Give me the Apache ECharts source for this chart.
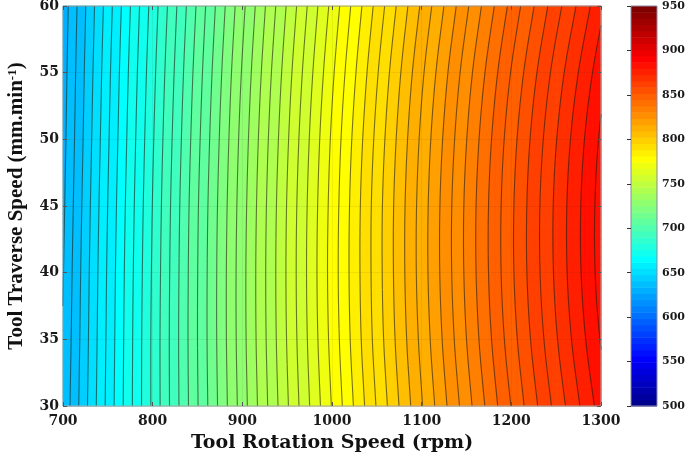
<!DOCTYPE html>
<html><head><meta charset="utf-8">
<script src="https://cdn.jsdelivr.net/npm/echarts@6/dist/echarts.min.js"></script>
<style>html,body{margin:0;padding:0;background:#fff}#c{width:685px;height:454px}</style>
</head><body><div id="c"></div>
<script>
// ---- data (temperature at grid nodes) ----
const rpm = [700, 750, 800, 850, 900, 950, 1000, 1050, 1100, 1150, 1200, 1250, 1300];
const speed = [30, 35, 40, 45, 50, 55, 60];
const temp30 = [636.0, 661.5, 686.0, 709.7, 732.5, 754.4, 775.3, 795.4, 814.6, 832.8, 850.2, 866.7, 882.3];
const temp35 = [635.3, 661.1, 686.0, 710.0, 733.1, 755.3, 776.6, 797.0, 816.4, 835.0, 852.7, 869.5, 885.4];
const temp40 = [634.7, 660.7, 685.7, 709.9, 733.2, 755.6, 777.1, 797.6, 817.3, 836.1, 854.0, 871.0, 887.1];
const temp45 = [634.0, 660.1, 685.2, 709.5, 732.8, 755.3, 776.8, 797.5, 817.2, 836.1, 854.0, 871.1, 887.2];
const temp50 = [633.3, 659.3, 684.4, 708.6, 731.9, 754.3, 775.8, 796.4, 816.1, 834.9, 852.8, 869.8, 885.9];
const temp55 = [632.7, 658.5, 683.4, 707.4, 730.5, 752.7, 774.0, 794.4, 814.0, 832.6, 850.3, 867.1, 883.0];
const temp60 = [632.0, 657.5, 682.1, 705.8, 728.6, 750.5, 771.5, 791.6, 810.8, 829.1, 846.5, 863.0, 878.7];
const temp = [temp30, temp35, temp40, temp45, temp50, temp55, temp60];
const colorbarTicks = [500, 550, 600, 650, 700, 750, 800, 850, 900, 950];
const levelMin = 500, levelMax = 950, levelStep = 5, nColors = 64;

// ---- jet colormap ----
function clamp(v){ return Math.max(0, Math.min(1, v)); }
function jet(t){
  const r = clamp(Math.min(4*t-1.5, -4*t+4.5));
  const g = clamp(Math.min(4*t-0.5, -4*t+3.5));
  const b = clamp(Math.min(4*t+0.5, -4*t+2.5));
  return 'rgb(' + Math.round(r*255) + ',' + Math.round(g*255) + ',' + Math.round(b*255) + ')';
}
function colorIndex(v){
  let i = Math.floor((v - levelMin) / (levelMax - levelMin) * nColors);
  return Math.max(0, Math.min(nColors-1, i));
}
function cmapColor(i){ return jet((i+1)/nColors); }

// ---- smooth (Catmull-Rom) sampling of the node grid, for drawing ----
const NX = rpm.length, NY = speed.length;
function node(i, j){
  if (i < 0) return 2*node(0, j) - node(1, j);
  if (i > NX-1) return 2*node(NX-1, j) - node(NX-2, j);
  if (j < 0) return 2*node(i, 0) - node(i, 1);
  if (j > NY-1) return 2*node(i, NY-1) - node(i, NY-2);
  return temp[j][i];
}
function cr(p0, p1, p2, p3, t){
  return 0.5*(2*p1 + (-p0+p2)*t + (2*p0-5*p1+4*p2-p3)*t*t + (-p0+3*p1-3*p2+p3)*t*t*t);
}
function sample(i, j, fx, fy){
  const r = [];
  for (let m = -1; m <= 2; m++) r.push(cr(node(i-1, j+m), node(i, j+m), node(i+1, j+m), node(i+2, j+m), fx));
  return cr(r[0], r[1], r[2], r[3], fy);
}

function clipPoly(poly, L, above){
  const out = [];
  for (let k = 0; k < poly.length; k++){
    const A = poly[k], B = poly[(k+1) % poly.length];
    const ina = above ? A.z >= L : A.z <= L;
    const inb = above ? B.z >= L : B.z <= L;
    if (ina) out.push(A);
    if (ina !== inb){
      const t = (L - A.z) / (B.z - A.z);
      out.push({x: A.x + (B.x-A.x)*t, y: A.y + (B.y-A.y)*t, z: L});
    }
  }
  return out;
}
function f2(v){ return v.toFixed(2); }

const cells = [];
for (let j = 0; j < NY-1; j++) for (let i = 0; i < NX-1; i++) cells.push([i, j]);

const SUB = 8;
function cellTriangles(api, i, j){
  const x0 = rpm[i], x1 = rpm[i+1], y0 = speed[j], y1 = speed[j+1];
  const pts = [];
  for (let b = 0; b <= SUB; b++){
    for (let a = 0; a <= SUB; a++){
      const fx = a/SUB, fy = b/SUB;
      const p = api.coord([x0 + (x1-x0)*fx, y0 + (y1-y0)*fy]);
      pts.push({x: p[0], y: p[1], z: sample(i, j, fx, fy)});
    }
  }
  const tris = [];
  for (let b = 0; b < SUB; b++){
    for (let a = 0; a < SUB; a++){
      const p00 = pts[b*(SUB+1)+a], p10 = pts[b*(SUB+1)+a+1], p01 = pts[(b+1)*(SUB+1)+a], p11 = pts[(b+1)*(SUB+1)+a+1];
      tris.push([p00, p10, p11]);
      tris.push([p00, p11, p01]);
    }
  }
  return tris;
}

function renderFill(params, api){
  const tris = cellTriangles(api, api.value(0), api.value(1));
  const bands = {};
  tris.forEach(function(T){
    const zmin = Math.min(T[0].z, T[1].z, T[2].z), zmax = Math.max(T[0].z, T[1].z, T[2].z);
    const k0 = Math.floor((zmin - levelMin)/levelStep), k1 = Math.floor((zmax - levelMin)/levelStep);
    for (let k = k0; k <= k1; k++){
      const lo = levelMin + k*levelStep, hi = lo + levelStep;
      let poly = clipPoly(T, lo, true);
      if (poly.length < 3) continue;
      poly = clipPoly(poly, hi, false);
      if (poly.length < 3) continue;
      const ci = colorIndex(lo);
      let d = 'M' + f2(poly[0].x) + ' ' + f2(poly[0].y);
      for (let m = 1; m < poly.length; m++) d += 'L' + f2(poly[m].x) + ' ' + f2(poly[m].y);
      bands[ci] = (bands[ci] || '') + d + 'Z';
    }
  });
  const children = [];
  Object.keys(bands).forEach(function(ci){
    const c = cmapColor(+ci);
    children.push({type: 'path', shape: {pathData: bands[ci]}, style: {fill: c, stroke: c, lineWidth: 0.8}});
  });
  return {type: 'group', children: children};
}

function renderLines(params, api){
  const tris = cellTriangles(api, api.value(0), api.value(1));
  let d = '';
  tris.forEach(function(T){
    const zmin = Math.min(T[0].z, T[1].z, T[2].z), zmax = Math.max(T[0].z, T[1].z, T[2].z);
    const k0 = Math.floor((zmin - levelMin)/levelStep), k1 = Math.floor((zmax - levelMin)/levelStep);
    for (let k = k0 + 1; k <= k1; k++){
      const L = levelMin + k*levelStep;
      const seg = [];
      for (let e = 0; e < 3; e++){
        const P = T[e], Q = T[(e+1)%3];
        if ((P.z >= L) !== (Q.z >= L)){
          const t = (L - P.z)/(Q.z - P.z);
          seg.push([P.x + (Q.x-P.x)*t, P.y + (Q.y-P.y)*t]);
        }
      }
      if (seg.length === 2) d += 'M' + f2(seg[0][0]) + ' ' + f2(seg[0][1]) + 'L' + f2(seg[1][0]) + ' ' + f2(seg[1][1]);
    }
  });
  return {type: 'path', shape: {pathData: d || 'M0 0'}, style: {fill: null, stroke: 'rgba(30,30,20,0.6)', lineWidth: 1.1}};
}

const cbData = [];
for (let i = 0; i < nColors; i++) cbData.push([i]);
function renderColorbar(params, api){
  const i = api.value(0);
  const v0 = levelMin + i*(levelMax-levelMin)/nColors, v1 = v0 + (levelMax-levelMin)/nColors;
  const p0 = api.coord([0, v0]), p1 = api.coord([1, v1]);
  return {type: 'rect', shape: {x: p0[0], y: p1[1], width: p1[0]-p0[0], height: p0[1]-p1[1] + 0.5}, style: {fill: cmapColor(i), stroke: null}};
}

const serif = 'DejaVu Serif';
const plain = function(v){ return String(v); };
const tickLabel = {fontFamily: serif, fontWeight: 'bold', fontSize: 14, color: '#1a1a1a', formatter: plain};
const chart = echarts.init(document.getElementById('c'), null, {renderer: 'canvas'});
chart.setOption({
  animation: false,
  backgroundColor: '#fff',
  grid: [
    {left: 63, top: 6, width: 538, height: 400, outerBoundsMode: 'none', containLabel: false, show: true, borderColor: '#a8a8a8', borderWidth: 1, backgroundColor: 'transparent'},
    {left: 631, top: 6, width: 26, height: 400, outerBoundsMode: 'none', containLabel: false, show: true, borderColor: '#8a8aa0', borderWidth: 1, backgroundColor: 'transparent'}
  ],
  xAxis: [
    {type: 'value', gridIndex: 0, min: 700, max: 1300, interval: 100, position: 'bottom',
     axisLine: {show: false}, axisTick: {inside: true, length: 4, lineStyle: {color: '#555'}},
     axisLabel: Object.assign({margin: 8}, tickLabel),
     splitLine: {show: true, lineStyle: {color: 'rgba(0,0,0,0.06)'}},
     name: 'Tool Rotation Speed (rpm)', nameLocation: 'middle', nameGap: 28,
     nameTextStyle: {fontFamily: serif, fontWeight: 'bold', fontSize: 19, color: '#111'}},
    {type: 'value', gridIndex: 0, min: 700, max: 1300, interval: 100, position: 'top',
     axisLine: {show: false}, axisTick: {inside: true, length: 4, lineStyle: {color: '#555'}},
     axisLabel: {show: false}, splitLine: {show: false}},
    {type: 'value', gridIndex: 1, min: 0, max: 1, show: false}
  ],
  yAxis: [
    {type: 'value', gridIndex: 0, min: 30, max: 60, interval: 5, position: 'left',
     axisLine: {show: false}, axisTick: {inside: true, length: 4, lineStyle: {color: '#555'}},
     axisLabel: Object.assign({margin: 4}, tickLabel),
     splitLine: {show: true, lineStyle: {color: 'rgba(0,0,0,0.06)'}},
     name: 'Tool Traverse Speed (mm.min{sup|-1})', nameLocation: 'middle', nameGap: 36,
     nameTextStyle: {fontFamily: 'Liberation Serif', fontWeight: 'bold', fontSize: 21, color: '#111',
       rich: {sup: {fontFamily: 'Liberation Serif', fontWeight: 'bold', fontSize: 13, verticalAlign: 'top', color: '#111'}}}},
    {type: 'value', gridIndex: 0, min: 30, max: 60, interval: 5, position: 'right',
     axisLine: {show: false}, axisTick: {inside: true, length: 4, lineStyle: {color: '#555'}},
     axisLabel: {show: false}, splitLine: {show: false}},
    {type: 'value', gridIndex: 1, min: 500, max: 950, interval: 50, position: 'right',
     axisLine: {show: false}, axisTick: {inside: true, length: 4, lineStyle: {color: '#333'}},
     axisLabel: {margin: 5, fontFamily: serif, fontWeight: 'bold', fontSize: 11, color: '#1a1a1a', formatter: plain},
     splitLine: {show: false}}
  ],
  series: [
    {type: 'custom', xAxisIndex: 0, yAxisIndex: 0, z: -2, data: cells, renderItem: renderFill, silent: true},
    {type: 'custom', xAxisIndex: 0, yAxisIndex: 0, z: -1, data: cells, renderItem: renderLines, silent: true},
    {type: 'custom', xAxisIndex: 2, yAxisIndex: 2, z: -1, data: cbData, renderItem: renderColorbar, silent: true}
  ]
});
</script></body></html>
